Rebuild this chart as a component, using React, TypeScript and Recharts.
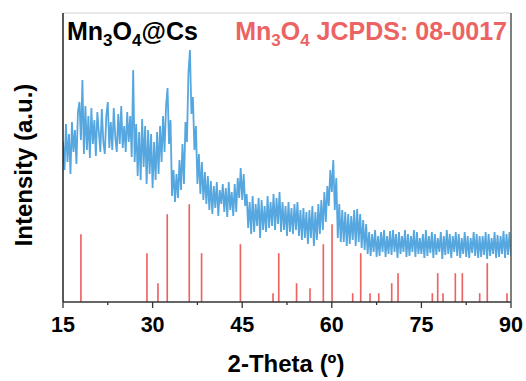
import React from "react";
import { ComposedChart, Line, Bar, XAxis, YAxis } from "recharts";

// 2-Theta grid: start 15°, step 0.25°
const thetaStart = 15;
const thetaStep = 0.25;
// Intensity (a.u.), 4 values per degree
const intensity = [
  160, 132, 178, 140,
  168, 128, 180, 150,
  172, 138, 190, 200,
  162, 222, 148, 196,
  152, 186, 144, 194,
  158, 182, 146, 190,
  170, 150, 193, 160,
  148, 186, 200, 154,
  180, 152, 194, 165,
  150, 188, 158, 196,
  154, 176, 150, 190,
  160, 186, 145, 232,
  140, 178, 126, 170,
  122, 183, 135, 176,
  118, 172, 128, 168,
  114, 160, 122, 170,
  128, 176, 140, 186,
  150, 196, 214, 158,
  182, 106, 132, 100,
  128, 104, 142, 112,
  158, 118, 180, 160,
  229, 252, 188, 205,
  152, 176, 118, 148,
  108, 140, 102, 130,
  98, 126, 92, 121,
  88, 116, 94, 120,
  86, 112, 98, 118,
  90, 114, 85, 120,
  92, 110, 86, 118,
  90, 124, 104, 134,
  102, 128, 96, 108,
  74, 100, 68, 106,
  70, 98, 76, 104,
  64, 102, 72, 96,
  70, 106, 74, 100,
  76, 108, 72, 104,
  78, 110, 70, 100,
  72, 96, 66, 100,
  70, 94, 68, 98,
  72, 100, 66, 92,
  62, 94, 64, 90,
  58, 92, 64, 96,
  56, 90, 62, 98,
  68, 102, 72, 110,
  80, 116, 96, 132,
  110, 142, 92, 124,
  64, 98, 60, 92,
  60, 90, 56, 88,
  58, 86, 62, 92,
  56, 93, 60, 88,
  54, 82, 52, 78,
  48, 70, 46, 68,
  50, 72, 45, 66,
  46, 70, 50, 72,
  45, 66, 48, 71,
  47, 72, 50, 68,
  44, 70, 48, 66,
  50, 72, 45, 68,
  46, 66, 50, 72,
  45, 70, 48, 64,
  48, 68, 44, 72,
  46, 66, 49, 70,
  44, 68, 47, 64,
  50, 70, 43, 66,
  47, 72, 48, 68,
  44, 66, 50, 70,
  46, 68, 44, 64,
  48, 70, 45, 66,
  44, 64, 49, 70,
  46, 68, 44, 66,
  45, 66, 47, 70,
  43, 68, 46, 64,
  48, 70, 44, 67,
  45, 66, 48, 71,
  44, 68, 47, 70,
  46,
];

// JCPDS 08-0017 reference sticks
const refTheta = [18.0, 29.06, 30.9, 32.45, 36.14, 38.2, 44.7, 50.16, 51.12, 54.1, 56.35, 58.58, 60.04, 63.5, 64.84, 66.4, 67.86, 70.03, 71.09, 76.83, 77.73, 78.62, 80.68, 81.85, 84.76, 86.03, 89.33];
const refHeight = [67, 48, 18, 87, 97, 48, 57, 8, 48, 18, 13, 57, 77, 8, 48, 8, 8, 18, 28, 8, 28, 8, 28, 28, 8, 38, 8];

const xTicks = [15, 22.5, 30, 37.5, 45, 52.5, 60, 67.5, 75, 82.5, 90];

const xrdData = intensity.map((v, i) => ({ x: thetaStart + i * thetaStep, y: v }));
const refData = refTheta.map((t, i) => ({ x: t, h: refHeight[i] }));

const FONT = "'Liberation Sans', Arial, sans-serif";
const BLUE = "#56a7df";
const RED = "#ec6363";

const XTick = (props: any) => {
  const { x, y, payload } = props;
  const major = payload.value % 15 === 0;
  return (
    <g>
      <line x1={x} x2={x} y1={y} y2={y + (major ? 6 : 3)} stroke="#333" strokeWidth={1.3} />
      {major && (
        <text x={x} y={y + 30} textAnchor="middle" fontSize={21.5} fontWeight="bold" fontFamily={FONT} fill="#000">
          {payload.value}
        </text>
      )}
    </g>
  );
};

export default function App() {
  return (
    <div style={{ position: "absolute", left: 0, top: 0, width: 526, height: 381, background: "#fff" }}>
      <ComposedChart
        width={526}
        height={381}
        data={refData}
        margin={{ top: 12, right: 14, bottom: 39, left: 62 }}
      >
        <XAxis
          dataKey="x"
          type="number"
          domain={[15, 90]}
          ticks={xTicks}
          allowDataOverflow
          height={40}
          tickLine={false}
          tickSize={0}
          tickMargin={0}
          tick={<XTick />}
          axisLine={{ stroke: "#333", strokeWidth: 1.3 }}
          interval={0}
        />
        <XAxis
          xAxisId="top"
          orientation="top"
          dataKey="x"
          type="number"
          domain={[15, 90]}
          allowDataOverflow
          height={1}
          tick={false}
          tickLine={false}
          axisLine={{ stroke: "#d4d4d4", strokeWidth: 1.2 }}
        />
        <YAxis yAxisId="l" type="number" domain={[0, 289]} allowDataOverflow width={1} tick={false} tickLine={false} axisLine={{ stroke: "#222", strokeWidth: 1.5 }} />
        <YAxis yAxisId="r" orientation="right" type="number" domain={[0, 289]} allowDataOverflow width={1} tick={false} tickLine={false} axisLine={{ stroke: "#555", strokeWidth: 1.5 }} />
        <Bar yAxisId="l" dataKey="h" fill={RED} stroke={RED} strokeWidth={1.6} barSize={1} isAnimationActive={false} />
        <Line
          yAxisId="l"
          data={xrdData}
          dataKey="y"
          stroke={BLUE}
          strokeWidth={1.8}
          dot={false}
          activeDot={false}
          isAnimationActive={false}
        />
        <text x={67} y={40} fontSize={25} fontWeight="bold" fontFamily={FONT} fill="#000">
          Mn<tspan fontSize={17} dy={6}>3</tspan><tspan dy={-6}>O</tspan><tspan fontSize={17} dy={6}>4</tspan><tspan dy={-6}>@Cs</tspan>
        </text>
        <text x={507} y={40} textAnchor="end" fontSize={25} fontWeight="bold" fontFamily={FONT} fill={RED}>
          Mn<tspan fontSize={17} dy={6}>3</tspan><tspan dy={-6}>O</tspan><tspan fontSize={17} dy={6}>4</tspan><tspan dy={-6}> JCPDS: 08-0017</tspan>
        </text>
        <text x={286} y={372} textAnchor="middle" fontSize={24} fontWeight="bold" fontFamily={FONT} fill="#000">
          2-Theta (º)
        </text>
        <text x={32} y={165} textAnchor="middle" fontSize={24} fontWeight="bold" fontFamily={FONT} fill="#000" transform="rotate(-90 32 165)">
          Intensity (a.u.)
        </text>
      </ComposedChart>
    </div>
  );
}
